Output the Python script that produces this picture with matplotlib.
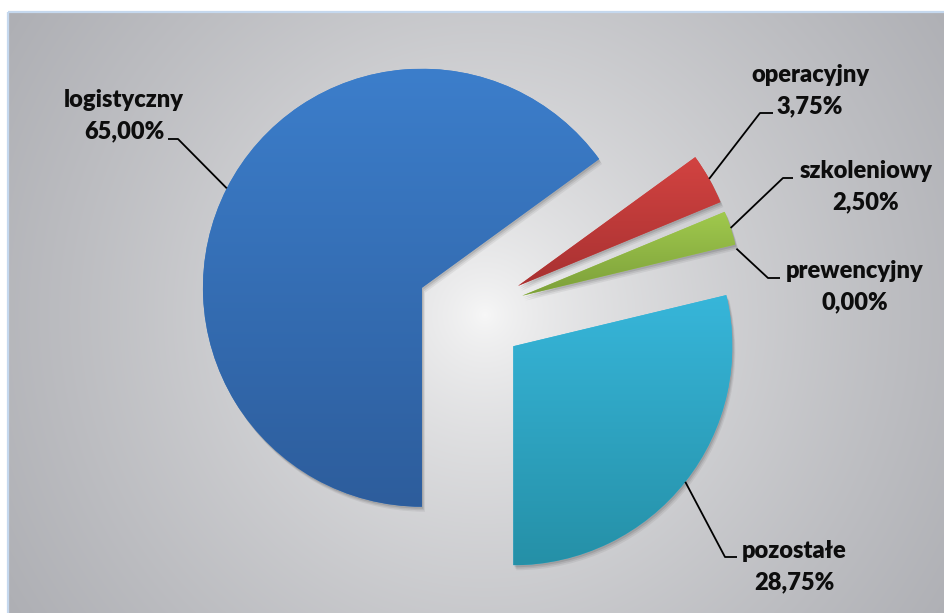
"""
exploded pie chart of category shares (polish labels)
output: out.png
"""

import numpy as np
import matplotlib.pyplot as plt
from matplotlib.patches import Wedge, Rectangle
from matplotlib.colors import to_rgb

# -- DATA --
categories = ["logistyczny", "operacyjny", "szkoleniowy", "prewencyjny", "pozostałe"]
shares = [65.00, 3.75, 2.50, 0.00, 28.75]

# -- STYLE --
top_colors = ["#3c7ecb", "#d24341", "#a0c94d", "#a0c94d", "#37b6da"]
bottom_colors = ["#2d5d9c", "#a83131", "#7c9f3a", "#7c9f3a", "#2590a7"]

W, H = 945, 613
center = (470.5, 312.5)
radius = 219
explode = [54.5] * len(shares)

# label layout in pixel coords: (x centre, name baseline), elbow, line end
label_pos = [(124, 107), (810, 82), (866, 178), (855, 278), (794, 558)]
elbows = [((178, 139), (168, 139)),
          ((760, 113), (773, 113)),
          ((783, 178), (793, 178)),
          ((768, 278), (780, 278)),
          ((725, 557), (737, 557))]
line_gap = 31

plt.rcParams["font.family"] = ["Lato", "DejaVu Sans"]

fig = plt.figure(figsize=(W / 100, H / 100), dpi=100)
ax = fig.add_axes([0, 0, 1, 1])

# -- BACKGROUND (radial gradient) --
x0, y0 = 8, 12
xs = np.arange(x0, W) + 0.5
ys = np.arange(y0, H) + 0.5
gx, gy = np.meshgrid(xs, ys)
d = np.hypot(gx - 485, gy - 315)
t = np.clip(d / 562, 0, 1) ** 0.7
light = np.array([248, 248, 248]) / 255
dark = np.array([174, 175, 180]) / 255
bg = light[None, None, :] * (1 - t[..., None]) + dark[None, None, :] * t[..., None]
ax.imshow(bg, extent=(x0, W, H, y0), origin="upper", zorder=0, aspect="auto",
          interpolation="bilinear")
ax.add_patch(Rectangle((x0, y0), W - x0 + 2, H - y0 + 2, fill=False,
                       edgecolor="#c5d8ee", linewidth=1.6, zorder=1))

# -- PIE --
# y axis is inverted later, so counterclock in data = clockwise on screen
wedges, _ = ax.pie(shares, startangle=90, counterclock=True, explode=explode,
                   center=center, radius=radius,
                   wedgeprops=dict(linewidth=0, zorder=3))

for i, w in enumerate(wedges):
    w.set_facecolor(top_colors[i])
    if shares[i] == 0:
        continue
    # soft shadow
    for k, a in [(5, 0.06), (3.5, 0.08), (2, 0.1)]:
        sh = Wedge((w.center[0] + k * 0.6, w.center[1] + k), w.r, w.theta1, w.theta2,
                   facecolor="black", alpha=a, linewidth=0, zorder=2)
        ax.add_patch(sh)
    ext = w.get_path().get_extents()
    c1 = np.array(to_rgb(top_colors[i]))
    c2 = np.array(to_rgb(bottom_colors[i]))
    g = np.linspace(0, 1, 256)[:, None, None]
    grad = c1 * (1 - g) + c2 * g
    im = ax.imshow(grad, extent=(ext.x0, ext.x1, ext.y1, ext.y0), origin="upper",
                   aspect="auto", zorder=4, interpolation="bilinear")
    im.set_clip_path(w)

# -- LABELS & LEADER LINES --
for i, w in enumerate(wedges):
    th = np.deg2rad((w.theta1 + w.theta2) / 2)
    ax_x = w.center[0] + w.r * np.cos(th)
    ax_y = w.center[1] + w.r * np.sin(th)
    (ex, ey), (hx, hy) = elbows[i]
    ax.plot([ax_x, ex, hx], [ax_y, ey, hy], color="black", linewidth=1.3,
            zorder=5, solid_capstyle="butt")
    lx, ly = label_pos[i]
    val = f"{shares[i]:.2f}".replace(".", ",") + "%"
    ax.text(lx, ly, categories[i], ha="center", va="baseline", fontsize=17,
            fontweight="heavy", color="#0d0d0d", zorder=6)
    ax.text(lx, ly + line_gap, val, ha="center", va="baseline", fontsize=17,
            fontweight="heavy", color="#0d0d0d", zorder=6)

ax.set_xlim(0, W)
ax.set_ylim(H, 0)
ax.set_aspect("equal")
ax.axis("off")
fig.patch.set_facecolor("white")

plt.savefig("out.png", dpi=100)
plt.close()
